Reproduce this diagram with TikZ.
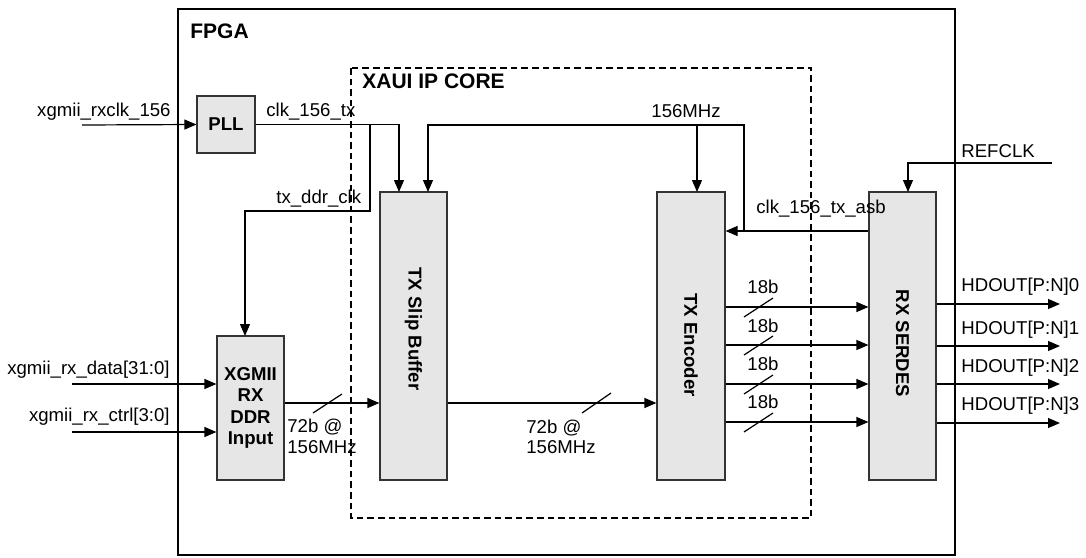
\documentclass[tikz,border=0pt]{standalone}
\usepackage{fontspec}
\setmainfont{Liberation Sans}
\usetikzlibrary{arrows.meta,calc}
\definecolor{boxfill}{HTML}{E6E6E6}
\definecolor{boxline}{HTML}{333333}
\begin{document}
\begin{tikzpicture}[x=0.5pt,y=-0.5pt,
  wire/.style={line width=0.6pt},
  arr/.style={wire,-{Triangle[length=6pt,width=5pt]}},
  blk/.style={draw=boxline,fill=boxfill,line width=0.6pt,inner sep=0pt},
  lbl/.style={font=\fontsize{9.3}{10.8}\selectfont,inner sep=0pt},
  blbl/.style={font=\fontsize{9.3}{10.8}\selectfont\bfseries,inner sep=0pt},
  ttl/.style={font=\fontsize{10.5}{12}\selectfont\bfseries,inner sep=0pt,anchor=base west},
]
\useasboundingbox (0,0) rectangle (1086,557);
% frames
\draw[line width=1.4pt] (178,9) rectangle (955,555);
\draw[line width=0.6pt,dash pattern=on 3.3pt off 2pt] (351,68) rectangle (811,518);
\node[ttl] (fpgalbl) at (190,38) {FPGA};
\node[ttl] (xauilbl) at (362,88) {XAUI IP CORE};
% blocks
\node[blk,blbl,minimum width=29pt,minimum height=28.5pt] (pll) at (226,124.5) {PLL};
\node[blk,minimum width=33.5pt,minimum height=144pt] (sb) at (413.5,336) {};
\node[blk,minimum width=34pt,minimum height=144pt] (enc) at (691,336) {};
\node[blk,minimum width=33.5pt,minimum height=144pt] (ser) at (902.5,336) {};
\node[blk,blbl,align=center,minimum width=33.5pt,minimum height=72pt] (xg) at (250.5,408) {XGMII\\RX\\DDR\\Input};
\node[blbl,rotate=-90] (sbl) at (413.5,329) {TX Slip Buffer};
\node[blbl,rotate=-90] (encl) at (691,345) {TX Encoder};
\node[blbl,rotate=-90] (serl) at (902.5,343.5) {RX SERDES};
% coordinates
\coordinate (rxclkin) at (82,125);
\coordinate (sbA) at (399,192);
\coordinate (sbB) at (428,192);
\coordinate (j1) at (370,125);
\coordinate (xgA) at (245,336);
\coordinate (j2) at (744,231);
\coordinate (j3) at (697,125);
\coordinate (encA) at (697,192);
\coordinate (refin) at (1052,163);
\coordinate (serA) at (908,192);
\coordinate (din) at (72,384);
\coordinate (cin) at (72,432);
% connectors
\draw[arr] (rxclkin) -- (pll.west);
\draw[arr] (pll.east) -| (sbA);
\draw[arr] (j1) -- (370,211) -| (xgA);
\draw[arr] (ser.west |- j2) -- (enc.east |- j2);
\draw[arr] (j2) -- (744,125) -| (sbB);
\draw[arr] (j3) -- (encA);
\draw[arr] (refin) -| (serA);
\draw[arr] (din) -- (xg.west |- din);
\draw[arr] (cin) -- (xg.west |- cin);
\draw[arr] (xg.east |- 0,403) -- (sb.west |- 0,403);
\draw[arr] (sb.east |- 0,403) -- (enc.west |- 0,403);
\draw[wire] (313,413) -- (342,394);
\draw[wire] (582,413) -- (611,393);
\foreach \y/\b in {307/293,345/332,384/370,422/408}{
  \draw[arr] (enc.east |- 0,\y) -- (ser.west |- 0,\y);
  \draw[wire] (744,\y+10) -- (773,\y-9);
  \node[lbl,anchor=base west] at (747,\b) {18b};
}
\foreach \y/\b/\n in {304/291/0,346/334/1,384/372/2,423/410/3}{
  \coordinate (hd\n) at (1060,\y);
  \draw[arr] (ser.east |- 0,\y) -- (hd\n);
  \node[lbl,anchor=base west] (hdl\n) at (961,\b) {HDOUT[P:N]\n};
}
% labels
\node[lbl,anchor=base east] (l1) at (171,116) {xgmii\_rxclk\_156};
\node[lbl,anchor=base west] (l2) at (266,116) {clk\_156\_tx};
\node[lbl,anchor=base west] (l3) at (276,203) {tx\_ddr\_clk};
\node[lbl,anchor=base west] (l4) at (651,117) {156MHz};
\node[lbl,anchor=base west] (l5) at (961,157) {REFCLK};
\node[lbl,anchor=base west] (l6) at (756,213) {clk\_156\_tx\_asb};
\node[lbl,anchor=base east] (l7) at (170,374) {xgmii\_rx\_data[31:0]};
\node[lbl,anchor=base east] (l8) at (170,421) {xgmii\_rx\_ctrl[3:0]};
\node[lbl,anchor=base west] (l9) at (287,432) {72b @};
\node[lbl,anchor=base west] (l10) at (287,453) {156MHz};
\node[lbl,anchor=base west] (l11) at (526,433) {72b @};
\node[lbl,anchor=base west] (l12) at (526,453) {156MHz};
\end{tikzpicture}
\end{document}
